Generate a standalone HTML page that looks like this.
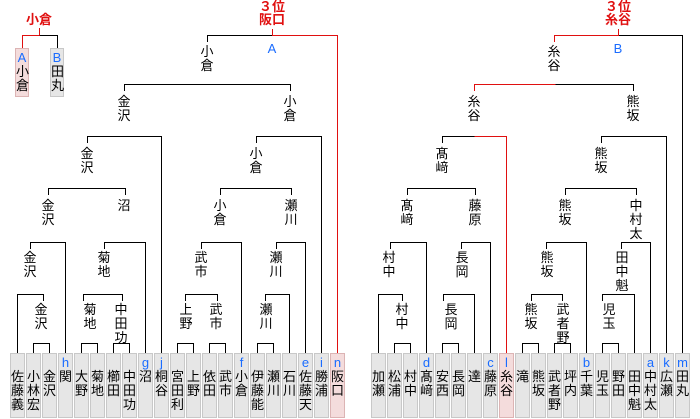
<!DOCTYPE html>
<html><head><meta charset="utf-8"><style>
body{margin:0;background:#fff;width:700px;height:419px;overflow:hidden;position:relative;font-family:"Liberation Sans","Noto Sans CJK JP",sans-serif}
.l{position:absolute;width:20px;margin-left:-10px;text-align:center;font-size:13px;line-height:14px;color:#000}
.t{position:absolute;width:40px;margin-left:-20px;text-align:center;font-size:13px;line-height:13px;color:#e01010;font-weight:bold}
.b{position:absolute;top:353px;width:15px;height:65px;box-sizing:border-box;border:1px solid #c8c8c8;background:#e6e6e6;text-align:center;font-size:13px;line-height:14px;padding-top:2px}
.p{background:#f4dcdc;border-color:#dcb4b4}
.k{color:#1a6cff;height:14px}
.bl{position:absolute;color:#1a6cff;font-size:13px;width:20px;margin-left:-10px;text-align:center;line-height:13px}
svg{position:absolute;left:0;top:0}
</style></head><body>
<svg width="700" height="419" fill="none" stroke-width="1">
<g stroke="#000">
<path d="M39.5 35.5H57.5V48"/>
<path d="M33.5 354V343.5H49.5V354M81.5 354V343.5H97.5V354M113.5 354V343.5H129.5V354M177.5 354V343.5H193.5V354M209.5 354V343.5H225.5V354M257.5 354V343.5H273.5V354"/>
<path d="M17.5 354V294.5H43.5V301M83.5 301V294.5H122.5V301M185.5 301V294.5H217.5V301M265.5 301V294.5H289.5V354"/>
<path d="M30.5 249V242.5H65.5V354M104.5 249V242.5H145.5V354M201.5 249V242.5H241.5V354M276.5 249V242.5H305.5V354"/>
<path d="M48.5 195V188.5H125.5V195M220.5 195V188.5H291.5V195"/>
<path d="M87.5 143V136.5H161.5V354M256.5 143V136.5H321.5V354"/>
<path d="M124.5 91V84.5H290.5V91"/>
<path d="M207.5 42V35.5H272.5"/>
<path d="M394.5 354V343.5H410.5V354M442.5 354V343.5H458.5V354M522.5 354V343.5H538.5V354M554.5 354V343.5H570.5V354M602.5 354V343.5H618.5V354"/>
<path d="M378.5 354V294.5H402.5V301M443.5 301V294.5H474.5V354M531.5 301V294.5H562.5V301M602.5 301V294.5H634.5V354"/>
<path d="M390.5 249V242.5H426.5V354M461.5 249V242.5H490.5V354M546.5 249V242.5H586.5V354M621.5 249V242.5H650.5V354"/>
<path d="M407.5 195V188.5H475.5V195M565.5 195V188.5H636.5V195"/>
<path d="M442.5 143V136.5H474.5M601.5 143V136.5H666.5V354"/>
<path d="M555.5 84.5H633.5V91"/>
<path d="M618.5 35.5H682.5V354"/>
</g>
<g stroke="#e01010">
<path d="M39.5 28V35.5M22.5 48V35.5H39.5"/>
<path d="M272.5 29V35.5H337.5V354"/>
<path d="M474.5 136.5H506.5V354"/>
<path d="M474.5 91V84.5H555.5"/>
<path d="M554.5 42V35.5H618.5V29"/>
</g>
</svg>

<div class="t" style="left:39px;top:13px">小倉</div>
<div class="t" style="left:272px;top:0px">３位<br>阪口</div>
<div class="t" style="left:618px;top:0px">３位<br>糸谷</div>
<div class="bl" style="left:272px;top:42px">A</div>
<div class="bl" style="left:618px;top:42px">B</div>

<div class="b p" style="left:15px;top:48px;height:49px;width:14px"><div class="k">A</div>小<br>倉</div>
<div class="b" style="left:50px;top:48px;height:49px;width:14px"><div class="k">B</div>田<br>丸</div>

<div class="l" style="left:207px;top:45px">小<br>倉</div>
<div class="l" style="left:554px;top:45px">糸<br>谷</div>

<div class="l" style="left:124px;top:95px">金<br>沢</div>
<div class="l" style="left:290px;top:95px">小<br>倉</div>
<div class="l" style="left:474px;top:95px">糸<br>谷</div>
<div class="l" style="left:633px;top:95px">熊<br>坂</div>

<div class="l" style="left:87px;top:147px">金<br>沢</div>
<div class="l" style="left:256px;top:147px">小<br>倉</div>
<div class="l" style="left:442px;top:147px">髙<br>﨑</div>
<div class="l" style="left:601px;top:147px">熊<br>坂</div>

<div class="l" style="left:48px;top:199px">金<br>沢</div>
<div class="l" style="left:124px;top:199px">沼</div>
<div class="l" style="left:220px;top:199px">小<br>倉</div>
<div class="l" style="left:291px;top:199px">瀬<br>川</div>
<div class="l" style="left:407px;top:199px">髙<br>﨑</div>
<div class="l" style="left:475px;top:199px">藤<br>原</div>
<div class="l" style="left:565px;top:199px">熊<br>坂</div>
<div class="l" style="left:636px;top:199px">中<br>村<br>太</div>

<div class="l" style="left:30px;top:251px">金<br>沢</div>
<div class="l" style="left:104px;top:251px">菊<br>地</div>
<div class="l" style="left:201px;top:251px">武<br>市</div>
<div class="l" style="left:276px;top:251px">瀬<br>川</div>
<div class="l" style="left:389px;top:251px">村<br>中</div>
<div class="l" style="left:462px;top:251px">長<br>岡</div>
<div class="l" style="left:547px;top:251px">熊<br>坂</div>
<div class="l" style="left:622px;top:251px">田<br>中<br>魁</div>

<div class="l" style="left:41px;top:303px">金<br>沢</div>
<div class="l" style="left:90px;top:303px">菊<br>地</div>
<div class="l" style="left:121px;top:303px">中<br>田<br>功</div>
<div class="l" style="left:186px;top:303px">上<br>野</div>
<div class="l" style="left:216px;top:303px">武<br>市</div>
<div class="l" style="left:266px;top:303px">瀬<br>川</div>
<div class="l" style="left:402px;top:303px">村<br>中</div>
<div class="l" style="left:451px;top:303px">長<br>岡</div>
<div class="l" style="left:531px;top:303px">熊<br>坂</div>
<div class="l" style="left:563px;top:303px">武<br>者<br>野</div>
<div class="l" style="left:609px;top:303px">児<br>玉</div>

<div class="b" style="left:10px"><div class="k"></div>佐<br>藤<br>義</div>
<div class="b" style="left:26px"><div class="k"></div>小<br>林<br>宏</div>
<div class="b" style="left:42px"><div class="k"></div>金<br>沢</div>
<div class="b" style="left:58px"><div class="k">h</div>関</div>
<div class="b" style="left:74px"><div class="k"></div>大<br>野</div>
<div class="b" style="left:90px"><div class="k"></div>菊<br>地</div>
<div class="b" style="left:106px"><div class="k"></div>櫛<br>田</div>
<div class="b" style="left:122px"><div class="k"></div>中<br>田<br>功</div>
<div class="b" style="left:138px"><div class="k">g</div>沼</div>
<div class="b" style="left:154px"><div class="k">j</div>桐<br>谷</div>
<div class="b" style="left:170px"><div class="k"></div>宮<br>田<br>利</div>
<div class="b" style="left:186px"><div class="k"></div>上<br>野</div>
<div class="b" style="left:202px"><div class="k"></div>依<br>田</div>
<div class="b" style="left:218px"><div class="k"></div>武<br>市</div>
<div class="b" style="left:234px"><div class="k">f</div>小<br>倉</div>
<div class="b" style="left:250px"><div class="k"></div>伊<br>藤<br>能</div>
<div class="b" style="left:266px"><div class="k"></div>瀬<br>川</div>
<div class="b" style="left:282px"><div class="k"></div>石<br>川</div>
<div class="b" style="left:298px"><div class="k">e</div>佐<br>藤<br>天</div>
<div class="b" style="left:314px"><div class="k">i</div>勝<br>浦</div>
<div class="b p" style="left:330px"><div class="k">n</div>阪<br>口</div>

<div class="b" style="left:371px"><div class="k"></div>加<br>瀬</div>
<div class="b" style="left:387px"><div class="k"></div>松<br>浦</div>
<div class="b" style="left:403px"><div class="k"></div>村<br>中</div>
<div class="b" style="left:419px"><div class="k">d</div>髙<br>﨑</div>
<div class="b" style="left:435px"><div class="k"></div>安<br>西</div>
<div class="b" style="left:451px"><div class="k"></div>長<br>岡</div>
<div class="b" style="left:467px"><div class="k"></div>達</div>
<div class="b" style="left:483px"><div class="k">c</div>藤<br>原</div>
<div class="b p" style="left:499px"><div class="k">l</div>糸<br>谷</div>
<div class="b" style="left:515px"><div class="k"></div>滝</div>
<div class="b" style="left:531px"><div class="k"></div>熊<br>坂</div>
<div class="b" style="left:547px"><div class="k"></div>武<br>者<br>野</div>
<div class="b" style="left:563px"><div class="k"></div>坪<br>内</div>
<div class="b" style="left:579px"><div class="k">b</div>千<br>葉</div>
<div class="b" style="left:595px"><div class="k"></div>児<br>玉</div>
<div class="b" style="left:611px"><div class="k"></div>野<br>田</div>
<div class="b" style="left:627px"><div class="k"></div>田<br>中<br>魁</div>
<div class="b" style="left:643px"><div class="k">a</div>中<br>村<br>太</div>
<div class="b" style="left:659px"><div class="k">k</div>広<br>瀬</div>
<div class="b" style="left:675px"><div class="k">m</div>田<br>丸</div>
</body></html>
